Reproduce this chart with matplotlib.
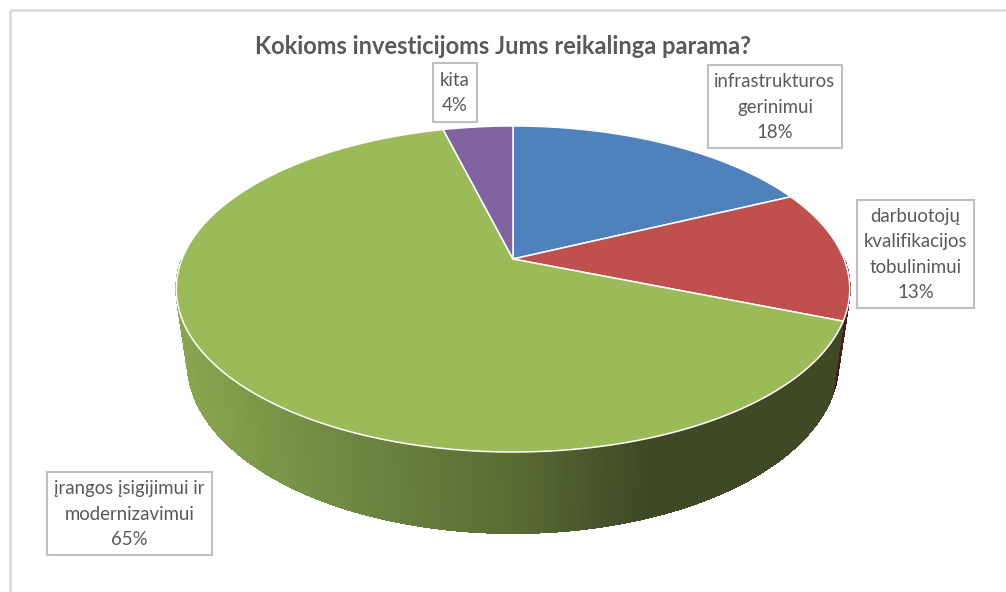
#!/usr/bin/env python3
"""Perspective 3D pie of investment support needs."""

import matplotlib
matplotlib.use("Agg")
import matplotlib.pyplot as plt
from matplotlib.collections import PolyCollection
from matplotlib.patches import Rectangle
import numpy as np

title = "Kokioms investicijoms Jums reikalinga parama?"
labels = ["infrastrukturos\ngerinimui", "darbuotojų\nkvalifikacijos\ntobulinimui",
          "įrangos įsigijimui ir\nmodernizavimui", "kita"]
shares = [18, 13, 65, 4]
top_colors = ["#4f81bd", "#c0504d", "#9bbb59", "#8064a2"]

# label boxes in pixels: left, top, right, bottom
boxes = [(708, 65, 842, 148), (857, 200, 974, 308), (47, 472, 212, 555), (433, 63, 477, 122)]

TEXT = "#595959"
plt.rcParams['font.family'] = ['Lato', 'Open Sans', 'DejaVu Sans']

# projection of the unit disc to the screen
CX, CY = 513, 259
A, B, K = 331, 157.5, 0.184
D, M = 75.4, 0.0339


def project(angle, r=1.0, z=0.0):
    u = r * np.sin(angle)
    v = r * np.cos(angle)
    w = 1 + K * v + M * z
    return CX + A * u / w, CY - (B * v - D * z) / w


def side_color(x):
    xs = [178, 333, 513, 600, 650]
    reds = [0x8a, 0x71, 0x5a, 0x47, 0x3f]
    greens = [0xa6, 0x8a, 0x6b, 0x54, 0x49]
    blues = [0x4f, 0x44, 0x34, 0x2a, 0x25]
    return (np.interp(x, xs, reds) / 255, np.interp(x, xs, greens) / 255, np.interp(x, xs, blues) / 255)


fig = plt.figure(figsize=(10.06, 5.92), dpi=100)
ax = fig.add_axes([0, 0, 1, 1])
ax.set_xlim(0, 1006)
ax.set_ylim(592, 0)
ax.axis('off')

# chart frame, only left and top show up in the crop
ax.add_patch(Rectangle((10.5, 9.5), 1100, 700, fill=False, ec='#d9d9d9', lw=1.8))

edges = 2 * np.pi * np.cumsum([0] + shares) / sum(shares)

# sides first, the top covers whatever is hidden
for i, flat in [(1, '#4e1a18'), (2, None)]:
    steps = np.linspace(edges[i], edges[i + 1], 241)
    polys = []
    cols = []
    for a0, a1 in zip(steps[:-1], steps[1:]):
        # back half of the rim is never seen, and would leak past the top edge
        if np.cos(a0) > 0 or np.cos(a1) > 0:
            continue
        x0, y0 = project(a0)
        x1, y1 = project(a1)
        x2, y2 = project(a1, z=1)
        x3, y3 = project(a0, z=1)
        polys.append([(x0, y0), (x1, y1), (x2, y2), (x3, y3)])
        cols.append(flat if flat else side_color((x0 + x1 + x2 + x3) / 4))
    # no antialiasing here, neighbouring strips show seams otherwise
    ax.add_collection(PolyCollection(polys, facecolors=cols, edgecolors=cols, linewidths=0.8,
                                     antialiaseds=False))

# top slices
for i, color in enumerate(top_colors):
    steps = np.linspace(edges[i], edges[i + 1], 200)
    xs, ys = project(steps)
    xs = np.r_[CX, xs]
    ys = np.r_[CY, ys]
    ax.fill(xs, ys, facecolor=color, edgecolor='white', lw=1.1, joinstyle='round')

# data labels
for label, share, (l, t, r, b) in zip(labels, shares, boxes):
    ax.add_patch(Rectangle((l, t), r - l, b - t, fc='white', ec='#bfbfbf', lw=1.5, zorder=3))
    lines = label.split("\n") + [f"{share}%"]
    pitch = 25.3
    y0 = (t + b) / 2 - pitch * (len(lines) - 1) / 2 + 0.5
    for j, line in enumerate(lines):
        ax.text((l + r) / 2, y0 + j * pitch, line, ha='center', va='center',
                fontsize=13.4, color=TEXT, zorder=4)

ax.text(503.5, 47, title, ha='center', va='center', fontsize=17, fontweight='bold', color=TEXT)

plt.savefig('out.png', dpi=100)
